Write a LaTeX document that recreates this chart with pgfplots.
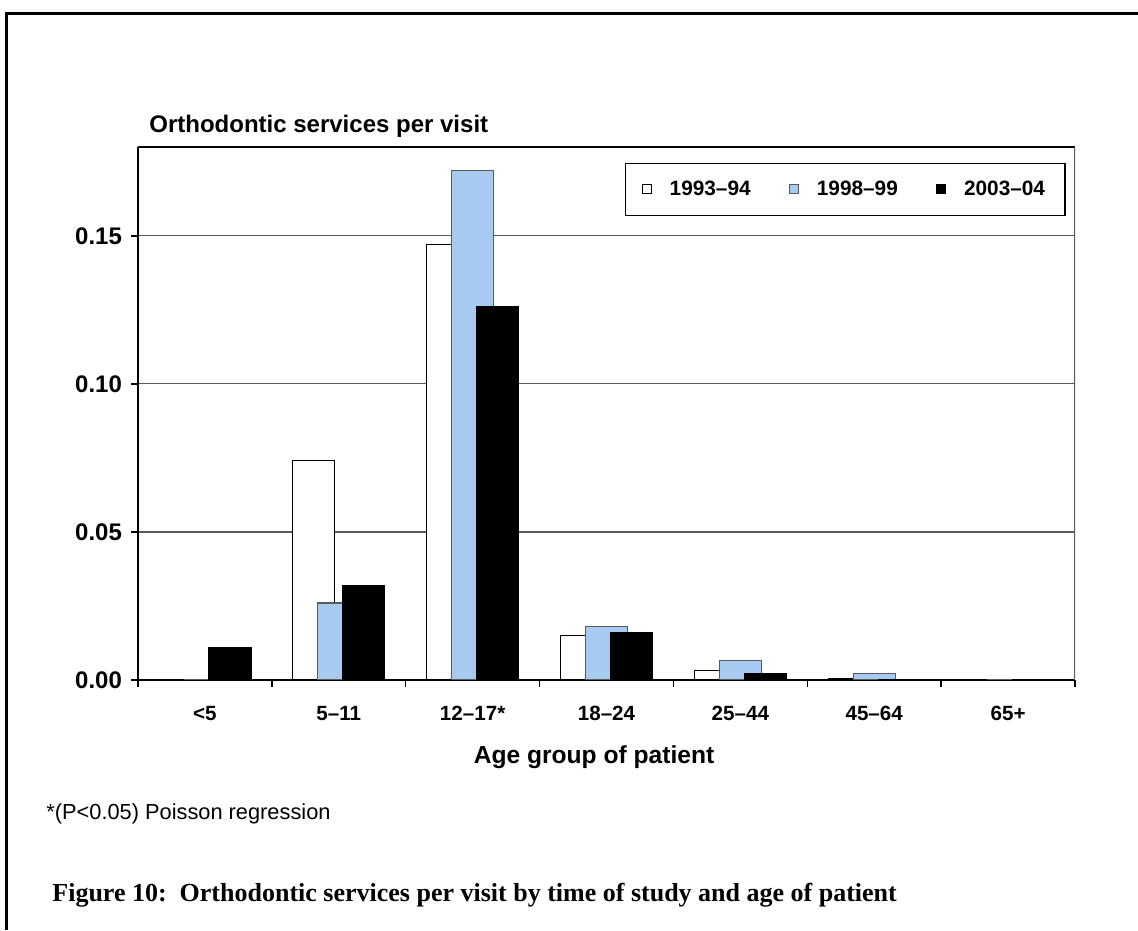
\documentclass[border=0pt]{standalone}
\usepackage{pgfplots}
\pgfplotsset{compat=1.18}
\usepackage{fontspec}
\setmainfont{Liberation Sans}
\newfontfamily\capfont{Liberation Serif}
\definecolor{lblue}{RGB}{166,202,240}
\definecolor{gridgray}{RGB}{90,90,90}
\begin{document}
\begin{tikzpicture}[x=0.5pt,y=0.5pt]
\path[use as bounding box] (0,0) rectangle (1138,930);
\draw[line width=1.5pt] (6,0) -- (6,916) -- (1138,916);
\begin{axis}[
  at={(69pt,125pt)}, anchor=south west,
  scale only axis, width=468.5pt, height=266.5pt,
  xmin=-0.5, xmax=6.5, ymin=0, ymax=0.18,
  axis x line*=bottom, axis y line*=left,
  axis line style={-, black, line width=0.7pt},
  ytick={0,0.05,0.10,0.15},
  yticklabel style={font=\bfseries\fontsize{12}{14}\selectfont, xshift=-1pt},
  /pgf/number format/.cd, fixed, fixed zerofill, precision=2, assume math mode=true,
  /pgfplots/.cd,
  ymajorgrids, major grid style={gridgray, line width=0.6pt},
  tick align=outside, major tick length=3.5pt, tick style={black, line width=0.7pt},
  xtick={-0.5,0.5,...,6.5}, xticklabels={},
  extra x ticks={0,1,2,3,4,5,6},
  extra x tick labels={\raisebox{3pt}{<5},5–11,12–17*,18–24,25–44,45–64,\raisebox{3pt}{65+}},
  extra x tick style={major tick length=0pt, xmajorgrids=false,
    xticklabel style={font=\bfseries\fontsize{10.3}{12}\selectfont, yshift=-9.5pt}},
  ybar, bar width=0.314,
  legend style={at={(0.990,0.970)}, anchor=north east, draw=black, line width=0.6pt,
    font=\bfseries\fontsize{10.4}{12}\selectfont, legend columns=3,
    inner xsep=8pt, inner ysep=6.5pt,
    /tikz/every odd column/.append style={column sep=7pt},
    /tikz/every even column/.append style={column sep=17pt}},
  legend image code/.code={\draw[#1,line width=0.5pt] (0pt,-2.3pt) rectangle (4.6pt,2.3pt);},
]
\addplot[fill=white, draw=black, line width=0.6pt, bar shift=-0.187] coordinates
  {(0,0) (1,0.074) (2,0.147) (3,0.015) (4,0.0033) (5,0.0006) (6,0)};
\addlegendentry{1993–94}
\addplot[fill=lblue, draw=gridgray, line width=0.6pt, bar shift=0] coordinates
  {(0,0) (1,0.026) (2,0.172) (3,0.018) (4,0.0065) (5,0.0022) (6,0)};
\addlegendentry{1998–99}
\addplot[fill=black, draw=black, line width=0.6pt, bar shift=0.187] coordinates
  {(0,0.011) (1,0.032) (2,0.126) (3,0.016) (4,0.0022) (5,0) (6,0)};
\addlegendentry{2003–04}
\draw[black, line width=0.7pt] (rel axis cs:0,1) -- (rel axis cs:1,1);
\draw[gridgray, line width=0.7pt] (rel axis cs:1,1) -- (rel axis cs:1,0);
\end{axis}
\node[anchor=base west, font=\bfseries\fontsize{12}{14}\selectfont, inner sep=0pt] at (149,797) {Orthodontic services per visit};
\node[anchor=center, font=\bfseries\fontsize{12.3}{15}\selectfont] at (594,173) {Age group of patient};
\node[anchor=base west, font=\fontsize{10.9}{12}\selectfont, inner sep=0pt] at (46,110) {*(P<0.05) Poisson regression};
\node[anchor=base west, font=\capfont\bfseries\fontsize{13}{15}\selectfont, inner sep=0pt] at (52,29) {Figure 10:\enspace Orthodontic services per visit by time of study and age of patient};
\end{tikzpicture}
\end{document}
